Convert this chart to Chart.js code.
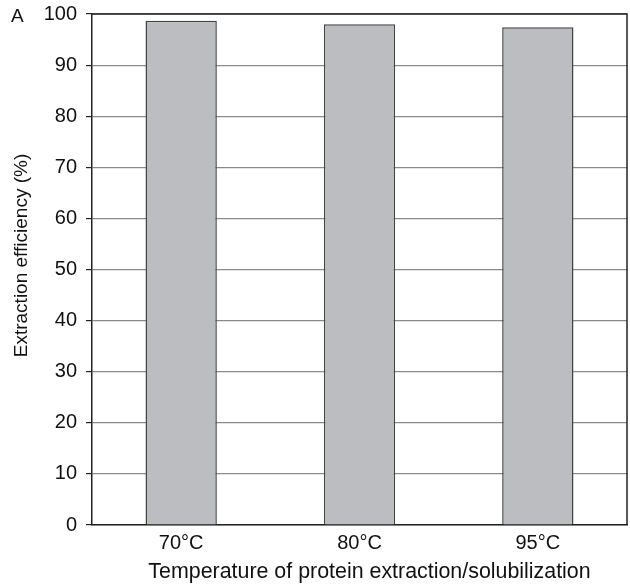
<!DOCTYPE html>
<html lang="en">
<head>
  <meta charset="UTF-8" />
  <title>Extraction efficiency</title>
  <script src="https://cdn.jsdelivr.net/npm/chart.js@4.4.1/dist/chart.umd.min.js"></script>
  <style>
    html, body { margin: 0; padding: 0; background: #fff; }
  </style>
</head>
<body>
  <canvas id="chart" width="630" height="584"></canvas>
  <script>
    const temps = ["70°C", "80°C", "95°C"];
    const efficiency = [98.7, 98.0, 97.4];
    const yTicks = [0, 10, 20, 30, 40, 50, 60, 70, 80, 90, 100];

    const FONT = "'Liberation Sans', Arial, sans-serif";

    // frame on top/right, panel letter and axis titles
    // (titles placed by hand: in the original they are not centred on the plot)
    const extras = {
      id: "extras",
      afterDraw(chart) {
        const { ctx, chartArea: a } = chart;
        ctx.save();
        ctx.strokeStyle = "#222";
        ctx.lineWidth = 1.5;
        ctx.beginPath();
        ctx.moveTo(a.left, a.top);
        ctx.lineTo(a.right, a.top);
        ctx.lineTo(a.right, a.bottom);
        ctx.stroke();

        ctx.fillStyle = "#111";
        ctx.textBaseline = "middle";
        ctx.font = "19px " + FONT;
        ctx.fillText("A", 11, 17);

        ctx.textAlign = "center";
        ctx.font = "21.4px " + FONT;
        ctx.fillText("Temperature of protein extraction/solubilization", a.left + (a.right - a.left) / 2 + 10, 572);

        ctx.font = "19px " + FONT;
        ctx.translate(22, a.top + (a.bottom - a.top) / 2 - 14);
        ctx.rotate(-Math.PI / 2);
        ctx.fillText("Extraction efficiency (%)", 0, 0);
        ctx.restore();
      }
    };

    new Chart(document.getElementById("chart").getContext("2d"), {
      type: "bar",
      data: {
        labels: temps,
        datasets: [{
          data: efficiency,
          backgroundColor: "#bcbdc1",
          borderColor: "#444",
          borderWidth: 1.5,
          categoryPercentage: 0.4,
          barPercentage: 1.0
        }]
      },
      options: {
        responsive: false,
        animation: false,
        layout: { padding: { top: 14, right: 3, left: 0, bottom: 0 } },
        plugins: { legend: { display: false }, tooltip: { enabled: false } },
        scales: {
          x: {
            grid: { display: false, drawTicks: false },
            border: { color: "#222", width: 1.5 },
            ticks: { color: "#111", font: { size: 20, family: FONT }, padding: 6 },
            afterFit(s) { s.height = 59; s.paddingLeft = 0; s.paddingRight = 0; }
          },
          y: {
            min: 0,
            max: 100,
            afterBuildTicks(s) { s.ticks = yTicks.map(v => ({ value: v })); },
            grid: { color: "#8a8a8a", lineWidth: 1.2, tickLength: 6, tickColor: "#222" },
            border: { color: "#222", width: 1.5 },
            ticks: { color: "#111", font: { size: 20, family: FONT }, padding: 9 },
            afterFit(s) { s.width = 92; s.paddingTop = 0; s.paddingBottom = 0; }
          }
        }
      },
      plugins: [extras]
    });
  </script>
</body>
</html>
